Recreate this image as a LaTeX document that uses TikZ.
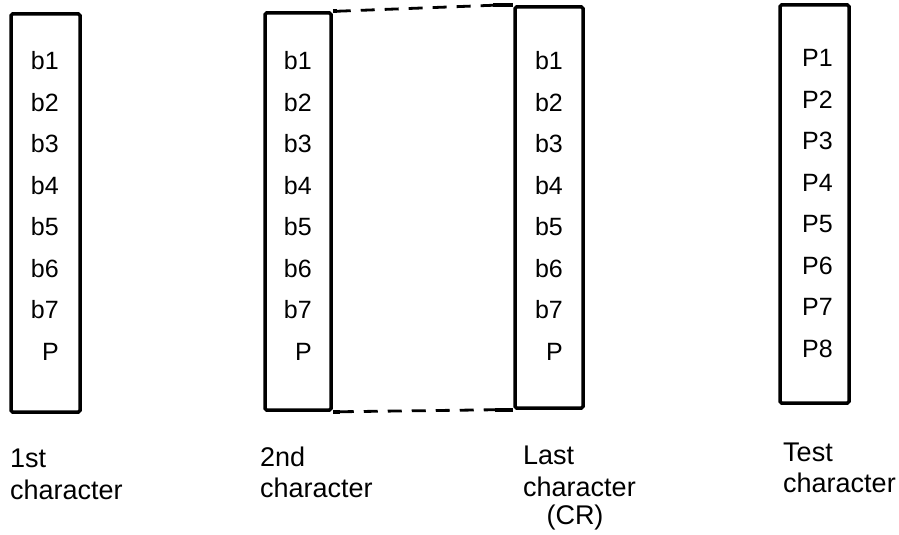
\documentclass[tikz,border=0pt]{standalone}
\usepackage{fontspec}
\setmainfont{Liberation Sans}
\begin{document}
\begin{tikzpicture}[x=1pt,y=-1pt,
  charbox/.style={draw, line width=3.5pt, rounded corners=1.5pt, rectangle, inner sep=0pt},
  bit/.style={inner sep=0pt, font=\fontsize{25}{25}\selectfont},
  lbl/.style={inner sep=0pt, anchor=west, font=\fontsize{27}{27}\selectfont},
  gap/.style={line width=2.8pt, dash pattern=on 14pt off 10pt}]
\useasboundingbox (0,0) rectangle (899,535);
% boxes
\node[charbox, minimum width=69pt, minimum height=398pt] (c1) at (45.5,213) {};
\node[charbox, minimum width=66pt, minimum height=397pt] (c2) at (298,211.5) {};
\node[charbox, minimum width=68pt, minimum height=401pt] (c3) at (549,207.5) {};
\node[charbox, minimum width=69pt, minimum height=398pt] (c4) at (814.5,204) {};
% bits
\foreach \t [count=\i] in {b1,b2,b3,b4,b5,b6,b7,P} {
  \pgfmathsetmacro{\yy}{61+(\i-1)*41.5}
  \node[bit, anchor=east] (a\i) at (59,\yy) {\t};
  \node[bit, anchor=east] (s\i) at (312,\yy) {\t};
  \node[bit, anchor=east] (l\i) at (563,\yy) {\t};
}
\foreach \i in {1,...,8} {
  \pgfmathsetmacro{\yy}{58+(\i-1)*41.5}
  \node[bit, anchor=west] (t\i) at (802,\yy) {P\i};
}
% extension lines of the last box and dashed gap
\coordinate (tl) at ([xshift=-20pt]c3.north west);
\coordinate (bl) at ([xshift=-18pt]c3.south west);
\draw[line width=3.5pt] (tl) -- (c3.north west);
\draw[line width=3.5pt] (bl) -- (c3.south west);
\coordinate (tr2) at ([xshift=4pt]c2.north east);
\coordinate (br2) at ([xshift=7pt]c2.south east);
\draw[line width=3.5pt] (c2.north east) -- (tr2);
\draw[line width=3.5pt] (c2.south east) -- (br2);
\draw[gap] (tr2) -- (tl);
\draw[gap] (br2) -- (bl);
% labels
\node[lbl] (n1a) at (10,458) {1st};
\node[lbl] (n1b) at (10,490) {character};
\node[lbl] (n2a) at (260,457) {2nd};
\node[lbl] (n2b) at (260,488) {character};
\node[lbl] (n3a) at (523,455) {Last};
\node[lbl] (n3b) at (523,487) {character};
\node[inner sep=0pt, font=\fontsize{27}{27}\selectfont] (n3c) at (575,518) {(CR)};
\node[lbl] (n4a) at (783,452) {Test};
\node[lbl] (n4b) at (783,483) {character};
\end{tikzpicture}
\end{document}
